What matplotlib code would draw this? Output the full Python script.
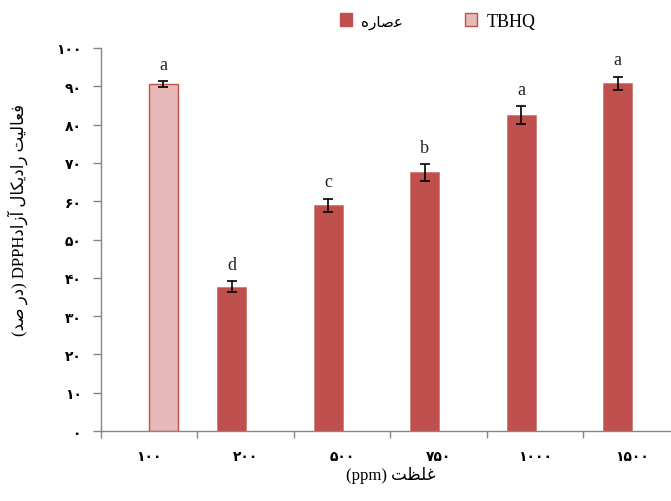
import matplotlib
matplotlib.use("Agg")
import matplotlib.pyplot as plt
from matplotlib.patches import Patch
import numpy as np

# Persian strings are stored pre-shaped (presentation forms, visual order)
# because matplotlib does no Arabic shaping or bidi reordering.
ext_name = "\ufee9\ufead\ufe8e\ufebb\ufecb"          # عصاره
ref_name = "TBHQ"
xlabel = "(ppm) " + "\ufe96\ufec8\ufee0\ufecf"       # غلظت (ppm)
ylabel = ("(" + "\ufeaa\ufebb" + " " + "\ufead\ufea9" + ") DPPH"
          + "\ufea9\ufe8d\ufeaf\ufe81" + " "
          + "\ufedd\ufe8e\ufb91\ufbfe\ufea9\ufe8d\ufead" + " "
          + "\ufe96\ufbff\ufedf\ufe8e\ufecc\ufed3")   # فعالیت رادیکال آزادDPPH (در صد)

concs = ["\u06f1\u06f0\u06f0", "\u06f2\u06f0\u06f0", "\u06f5\u06f0\u06f0",
         "\u06f7\u06f5\u06f0", "\u06f1\u06f0\u06f0\u06f0", "\u06f1\u06f5\u06f0\u06f0"]
yticks = [0, 10, 20, 30, 40, 50, 60, 70, 80, 90, 100]
ytick_labels = ["\u06f0", "\u06f1\u06f0", "\u06f2\u06f0", "\u06f3\u06f0", "\u06f4\u06f0",
                "\u06f5\u06f0", "\u06f6\u06f0", "\u06f7\u06f0", "\u06f8\u06f0", "\u06f9\u06f0",
                "\u06f1\u06f0\u06f0"]

# TBHQ only at 100 ppm, extract at the other concentrations
tbhq_idx = [0]
tbhq_val = [90.6]
tbhq_err = [0.8]
tbhq_grp = ["a"]

ext_idx = [1, 2, 3, 4, 5]
ext_val = [37.7, 59.0, 67.5, 82.5, 90.8]
ext_err = [1.5, 1.7, 2.1, 2.3, 1.7]
ext_grp = ["d", "c", "b", "a", "a"]

dark = "#C0504D"
light = "#E6B9B8"
axis_gray = "#868686"
mixed = ["Liberation Serif", "DejaVu Sans"]

fig = plt.figure(figsize=(6.71, 5.02), dpi=100)
ax = fig.add_axes([0.1505, 0.1394, 0.8629, 0.763])

w = 0.3
off = 0.145
ax.bar(np.array(ext_idx) - off, ext_val, width=w, color=dark, edgecolor="#D07a78",
       linewidth=0.6, yerr=ext_err, capsize=3.6,
       error_kw=dict(ecolor="black", elinewidth=1.2, capthick=1.2))
ax.bar(np.array(tbhq_idx) + off, tbhq_val, width=w, color=light, edgecolor=dark,
       linewidth=1.0, yerr=tbhq_err, capsize=3.6,
       error_kw=dict(ecolor="black", elinewidth=1.2, capthick=1.2))

# significance letters above the error bars
for i, v, e, g in zip(ext_idx, ext_val, ext_err, ext_grp):
    ax.annotate(g, (i - off, v + e), xytext=(0, 6), textcoords="offset points",
                ha="center", va="bottom", family="Liberation Serif", fontsize=13,
                color="#222222")
for i, v, e, g in zip(tbhq_idx, tbhq_val, tbhq_err, tbhq_grp):
    ax.annotate(g, (i + off, v + e), xytext=(0, 6), textcoords="offset points",
                ha="center", va="bottom", family="Liberation Serif", fontsize=13,
                color="#222222")

ax.set_xlim(-0.5, 5.5)
ax.set_ylim(0, 100)
ax.set_xticks(np.arange(-0.5, 5.6, 1.0))
ax.set_xticklabels([])
ax.set_xticks(np.arange(6), minor=True)
ax.set_xticklabels(concs, minor=True, fontsize=10, fontweight="bold")
ax.tick_params(axis="x", which="major", length=5, width=1, color=axis_gray, direction="out")
ax.tick_params(axis="x", which="minor", length=0, pad=13)
ax.set_yticks(yticks)
ax.set_yticklabels(ytick_labels, fontsize=10, fontweight="bold")
ax.tick_params(axis="y", length=6, width=1, color=axis_gray, direction="out", pad=8)

for side in ["top", "right"]:
    ax.spines[side].set_visible(False)
for side in ["left", "bottom"]:
    ax.spines[side].set_color(axis_gray)
    ax.spines[side].set_linewidth(1)

ax.set_xlabel(xlabel, fontsize=12, labelpad=2, family=mixed)
ax.set_ylabel(ylabel, fontsize=12, family=mixed)
ax.yaxis.set_label_coords(-0.126, 0.553)

handles = [Patch(facecolor=dark, edgecolor=dark),
           Patch(facecolor=light, edgecolor=dark)]
leg = fig.legend(handles, [ext_name, ref_name], loc="center",
                 bbox_to_anchor=(0.652, 0.956), ncol=2, frameon=False,
                 fontsize=13, handlelength=0.7, handleheight=0.7,
                 handletextpad=0.5, columnspacing=3.4)
leg.get_texts()[0].set_fontsize(11)
leg.get_texts()[1].set_family("Liberation Serif")

fig.savefig("out.png", dpi=100)
